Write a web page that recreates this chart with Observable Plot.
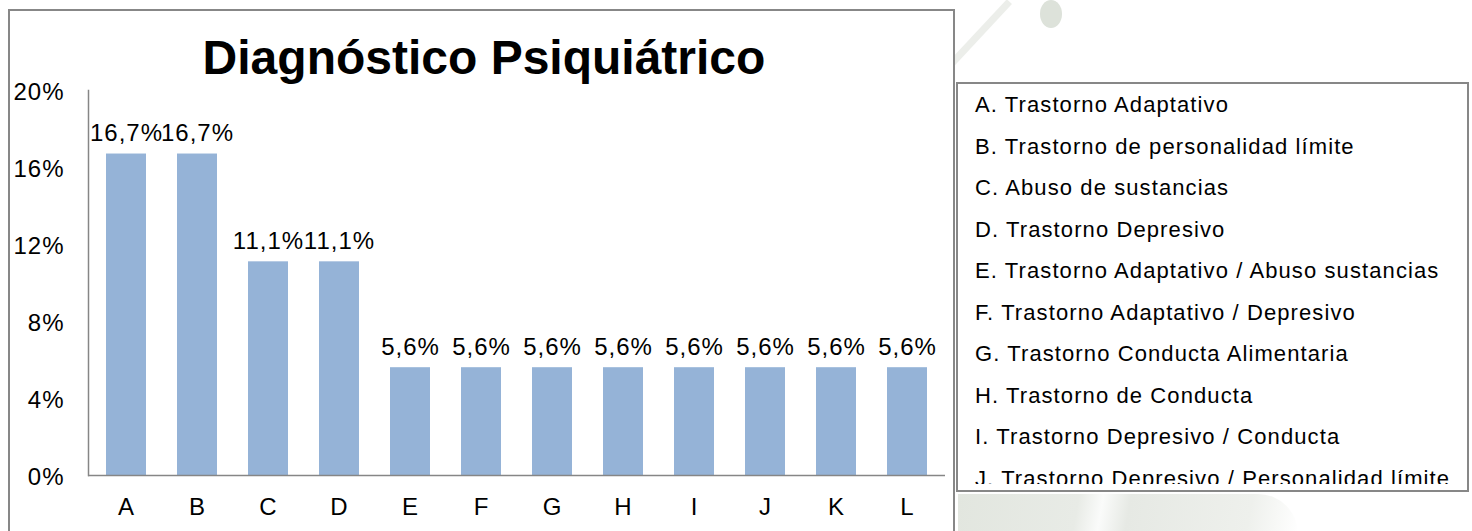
<!DOCTYPE html>
<html>
<head>
<meta charset="utf-8">
<script src="https://cdn.jsdelivr.net/npm/d3@7"></script>
<script src="https://cdn.jsdelivr.net/npm/@observablehq/plot@0.6"></script>
<style>
  html, body { margin: 0; padding: 0; background: #fff; }
  body { width: 1472px; height: 531px; position: relative; overflow: hidden; font-family: "Liberation Sans", Arial, sans-serif; }
  .wm { position: absolute; background: #e3e7e1; }
  #frame { position: absolute; left: 8px; top: 9px; width: 947px; height: 560px; box-sizing: border-box; border: 2px solid #878787; background: #fff; }
  #title { position: absolute; left: 8px; width: 952px; top: 34px; text-align: center; font-weight: bold; font-size: 48px; line-height: 1; color: #000; }
  #chart { position: absolute; left: 0; top: 0; }
  #legend { position: absolute; left: 956px; top: 82px; width: 513px; height: 410px; box-sizing: border-box; border: 2px solid #878787; background: #fff; }
  #legend .inner { height: 400px; overflow: hidden; padding-left: 17px; }
  #legend .item { font-size: 22px; letter-spacing: 1.1px; line-height: 41.5px; height: 41.5px; white-space: nowrap; color: #000; }
</style>
</head>
<body>
<div class="wm" style="left:958px; top:494px; width:340px; height:40px; border-top-right-radius:60px; background:linear-gradient(100deg,#e2e6df 0%,#e8ebe6 35%,#fafbfa 42%,#e6e9e4 50%,#eef0ec 85%,#fff 100%);"></div>
<div class="wm" style="left:948px; width:90px; height:7px; background:#eceeea; transform:rotate(-47deg); transform-origin:left center; top:64px;"></div>
<div class="wm" style="left:1040px; top:0px; width:22px; height:28px; border-radius:50%; background:#dde2da;"></div>
<div id="frame"></div>
<div id="title">Diagnóstico Psiquiátrico</div>
<div id="chart"></div>
<div id="legend"><div class="inner" id="legendInner"></div></div>
<script>
// ---- data ----
const categories = ["A", "B", "C", "D", "E", "F", "G", "H", "I", "J", "K", "L"];
const values = [16.7, 16.7, 11.1, 11.1, 5.6, 5.6, 5.6, 5.6, 5.6, 5.6, 5.6, 5.6];
const yTicks = [0, 4, 8, 12, 16, 20];
const legendLabels = [
  "A. Trastorno Adaptativo",
  "B. Trastorno de personalidad límite",
  "C. Abuso de sustancias",
  "D. Trastorno Depresivo",
  "E. Trastorno Adaptativo / Abuso sustancias",
  "F. Trastorno Adaptativo / Depresivo",
  "G. Trastorno Conducta Alimentaria",
  "H. Trastorno de Conducta",
  "I. Trastorno Depresivo / Conducta",
  "J. Trastorno Depresivo / Personalidad límite"
];

const data = categories.map((c, i) => ({cat: c, value: values[i]}));
const fmt = v => v.toFixed(1).replace(".", ",") + "%";

const chart = Plot.plot({
  width: 955,
  height: 531,
  marginLeft: 88,
  marginRight: 10,
  marginTop: 90,
  marginBottom: 56,
  style: {
    fontFamily: '"Liberation Sans", Arial, sans-serif',
    fontSize: "24px",
    color: "#000",
    background: "transparent",
    letterSpacing: "1px",
    overflow: "visible"
  },
  x: {domain: categories, paddingInner: 0.44, paddingOuter: 0.22, align: 0.5},
  y: {domain: [0, 20]},
  marks: [
    Plot.barY(data, {x: "cat", y: "value", fill: "#95b3d7"}),
    Plot.frame({anchor: "left", stroke: "#868686", strokeWidth: 1.5}),
    Plot.ruleY([0], {stroke: "#868686", strokeWidth: 1.5}),
    Plot.text(data, {x: "cat", y: "value", text: d => fmt(d.value), dy: -13, lineAnchor: "bottom", fill: "#000", fontSize: 24}),
    Plot.axisX({tickSize: 0, tickPadding: 22, fontSize: 24, label: null, fill: "#000"}),
    Plot.axisY({ticks: yTicks, tickSize: 0, tickPadding: 24, fontSize: 24, dy: 2, tickFormat: d => d + "%", label: null, fill: "#000"})
  ]
});
document.getElementById("chart").appendChild(chart);

const inner = document.getElementById("legendInner");
legendLabels.forEach(t => {
  const el = document.createElement("div");
  el.className = "item";
  el.textContent = t;
  inner.appendChild(el);
});
</script>
</body>
</html>
